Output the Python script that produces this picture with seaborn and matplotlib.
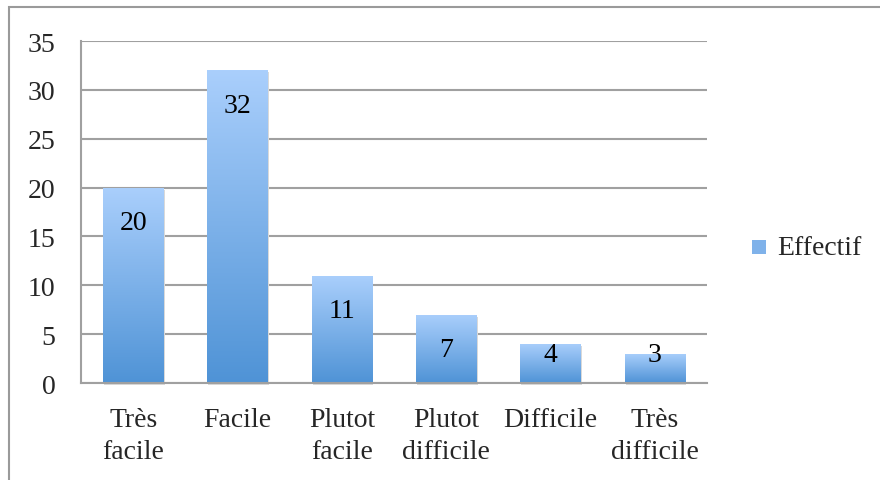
import numpy as np
import pandas as pd
import seaborn as sns
import matplotlib.pyplot as plt
from matplotlib.colors import LinearSegmentedColormap
from matplotlib.patches import Rectangle

categories = ["Très\nfacile", "Facile", "Plutot\nfacile", "Plutot\ndifficile", "Difficile", "Très\ndifficile"]
effectif = [20, 32, 11, 7, 4, 3]
series_name = "Effectif"

sns.set_style("white")
plt.rcParams['font.family'] = ['Liberation Serif', 'DejaVu Serif']

df = pd.DataFrame({"cat": categories, "val": effectif})
grad = LinearSegmentedColormap.from_list("bar", ["#4f93d6", "#aacffc"])

fig = plt.figure(figsize=(8.8, 4.81), dpi=100)
ax = fig.add_axes([81 / 880, 1 - 384 / 481, 626 / 880, 342 / 481])

sns.barplot(data=df, x="cat", y="val", color="#7fb2ea", width=0.58, ax=ax, zorder=3)

ax.set_ylim(0, 35)
ax.set_yticks(range(0, 36, 5))
ax.grid(axis="y", color="#a0a0a0", linewidth=1.5, zorder=0)
ax.set_axisbelow(True)

px = 35 / 342  # data units per pixel
for bar, v in zip(ax.patches, effectif):
    x0, w, h = bar.get_x(), bar.get_width(), bar.get_height()
    bar.set_facecolor("none")
    bar.set_edgecolor("none")
    # soft shadow
    ax.add_patch(Rectangle((x0 + 0.012, -2 * px), w, h, facecolor="#d9d9d9", edgecolor="none",
                           zorder=2.5, clip_on=False))
    img = ax.imshow(np.linspace(1, 0, 256).reshape(-1, 1), cmap=grad, aspect="auto",
                    extent=[x0, x0 + w, 0, h], zorder=3)
    img.set_clip_path(bar)
    ax.text(x0 + w / 2, max(h - 35 * px, 28 * px), str(v), ha="center", va="center",
            fontsize=20, color="black", zorder=4)

ax.set_xlim(-0.5, len(categories) - 0.5)
ax.set_xlabel("")
ax.set_ylabel("")
ax.tick_params(axis="x", labelsize=20, pad=17, length=0)
ax.tick_params(axis="y", labelsize=20, pad=18.5, length=0)
for t in ax.get_xticklabels():
    t.set_linespacing(1.4)

for s in ["top", "right"]:
    ax.spines[s].set_visible(False)
for s in ["left", "bottom"]:
    ax.spines[s].set_color("#a0a0a0")
    ax.spines[s].set_linewidth(1.5)
    ax.spines[s].set_zorder(5)

# legend
fig.patches.append(Rectangle((752 / 880, 1 - 255 / 481), 14 / 880, 14 / 481, transform=fig.transFigure,
                             facecolor="#7fb2ea", edgecolor="none"))
fig.text(777 / 880, 1 - 249 / 481, series_name, fontsize=20, va="center", ha="left")

# outer frame
fig.patches.append(Rectangle((9 / 880, -0.1), 1.0, 1.1 - 8 / 481, transform=fig.transFigure,
                             facecolor="none", edgecolor="#9a9a9a", linewidth=1.5))

fig.savefig("out.png", dpi=100)
